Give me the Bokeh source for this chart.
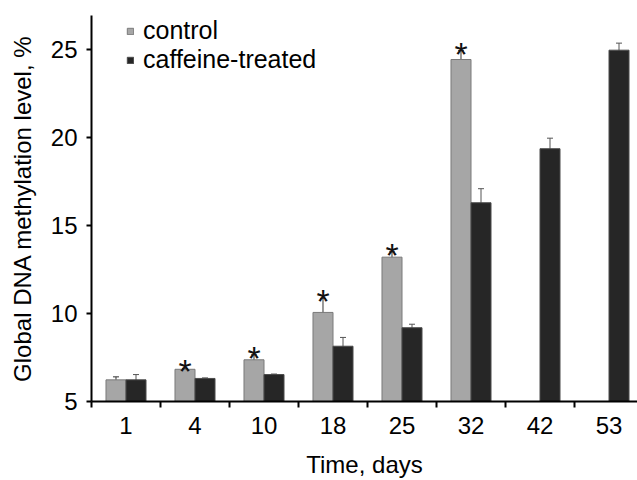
from bokeh.plotting import figure
from bokeh.models import (ColumnDataSource, Range1d, FixedTicker, CustomJSTickFormatter,
                          Whisker, TeeHead, Legend, LegendItem)
from bokeh.core.properties import value
from bokeh.embed import file_html
from bokeh.resources import INLINE

days = ["1", "4", "10", "18", "25", "32", "42", "53"]
control = [6.23, 6.83, 7.37, 10.06, 13.2, 24.43]
control_err = [0.17, 0.05, 0.28, 0.8, 0.3, 0.5]
control_signif = [False, True, True, True, True, True]
caffeine = [6.23, 6.31, 6.53, 8.14, 9.19, 16.29, 19.36, 24.96]
caffeine_err = [0.3, 0.03, 0.03, 0.5, 0.2, 0.8, 0.6, 0.4]

FONT = "Liberation Sans"
BAR_W = 0.29
BASE = 5

ctrl_x = [i + 0.5 - BAR_W / 2 for i in range(len(control))]
caff_x = [i + 0.5 + BAR_W / 2 for i in range(len(caffeine))]

ctrl_src = ColumnDataSource(dict(
    x=ctrl_x, top=control,
    upper=[v + e for v, e in zip(control, control_err)],
    lower=[v - e for v, e in zip(control, control_err)]))
caff_src = ColumnDataSource(dict(
    x=caff_x, top=caffeine,
    upper=[v + e for v, e in zip(caffeine, caffeine_err)],
    lower=[v - e for v, e in zip(caffeine, caffeine_err)]))
star_src = ColumnDataSource(dict(
    x=[x for x, s in zip(ctrl_x, control_signif) if s],
    y=[v + e for v, e, s in zip(control, control_err, control_signif) if s],
    t=["*" for s in control_signif if s]))

p = figure(width=637, height=480, output_backend="svg", toolbar_location=None,
           x_range=Range1d(0, 546 / 69), y_range=Range1d(5, 26.93))
p.min_border_left = 91
p.min_border_top = 15
p.min_border_right = 0
p.min_border_bottom = 79
p.outline_line_color = None
p.xgrid.visible = False
p.ygrid.visible = False
p.background_fill_color = "white"
p.border_fill_color = "white"

r_ctrl = p.vbar(x="x", top="top", bottom=BASE, width=BAR_W, source=ctrl_src,
                fill_color="#a6a6a6", line_color="#7a7a7a", line_width=1)
r_caff = p.vbar(x="x", top="top", bottom=BASE, width=BAR_W, source=caff_src,
                fill_color="#262626", line_color="#4a4a4a", line_width=1)

for src, col in ((ctrl_src, "#333333"), (caff_src, "#555555")):
    w = Whisker(source=src, base="x", upper="upper", lower="lower",
                line_color=col, line_width=1,
                upper_head=TeeHead(size=6, line_color=col, line_width=1),
                lower_head=TeeHead(size=6, line_color=col, line_width=1))
    p.add_layout(w)

p.text(x="x", y="y", text="t", source=star_src, text_font=value(FONT),
       text_font_size="34px", text_align="center", text_baseline="alphabetic",
       text_color="#111111", y_offset=3)

# x axis
xa = p.xaxis[0]
xa.ticker = FixedTicker(ticks=[i + 0.5 for i in range(len(days))],
                        minor_ticks=list(range(len(days) + 1)))
xa.formatter = CustomJSTickFormatter(args=dict(labels=days),
                                     code="return labels[Math.floor(tick)];")
xa.major_tick_out = 0
xa.major_tick_in = 0
xa.minor_tick_out = 6
xa.minor_tick_in = 0
xa.minor_tick_line_width = 2
xa.minor_tick_line_color = "black"
xa.axis_line_width = 2
xa.axis_line_color = "black"
xa.major_label_text_font = FONT
xa.major_label_text_font_size = "24px"
xa.major_label_text_color = "black"
xa.major_label_standoff = 9
xa.axis_label = "Time, days"
xa.axis_label_text_font = FONT
xa.axis_label_text_font_size = "24px"
xa.axis_label_text_font_style = "normal"
xa.axis_label_text_color = "black"
xa.axis_label_standoff = 14

ya = p.yaxis[0]
ya.ticker = FixedTicker(ticks=[5, 10, 15, 20, 25])
ya.major_tick_out = 5
ya.major_tick_in = 0
ya.minor_tick_out = 0
ya.minor_tick_in = 0
ya.major_tick_line_width = 2
ya.major_tick_line_color = "black"
ya.axis_line_width = 2
ya.axis_line_color = "black"
ya.major_label_text_font = FONT
ya.major_label_text_font_size = "24px"
ya.major_label_text_color = "black"
ya.major_label_standoff = 9
ya.axis_label = "Global DNA methylation level, %"
ya.axis_label_text_font = FONT
ya.axis_label_text_font_size = "24px"
ya.axis_label_text_font_style = "normal"
ya.axis_label_text_color = "black"
ya.axis_label_standoff = 12

legend = Legend(items=[LegendItem(label="control", renderers=[r_ctrl]),
                       LegendItem(label="caffeine-treated", renderers=[r_caff])],
                location=(35, 327), orientation="vertical",
                glyph_width=8, glyph_height=8, label_height=20, spacing=-2,
                label_standoff=9, padding=0, margin=0,
                border_line_color=None, background_fill_alpha=0,
                label_text_font=FONT, label_text_font_size="25px",
                label_text_color="black")
p.add_layout(legend, "center")

open("out.html", "w").write(file_html(p, INLINE))
